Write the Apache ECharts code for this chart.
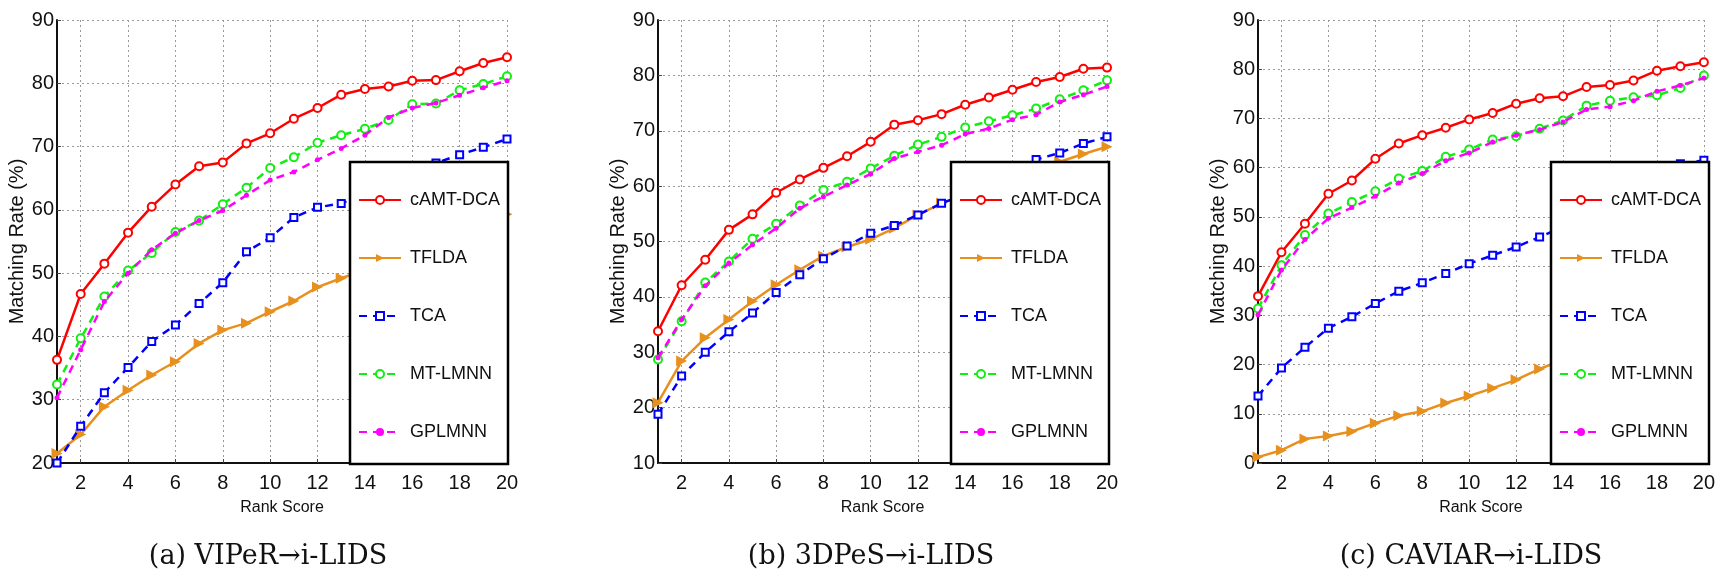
<!DOCTYPE html>
<html><head><meta charset="utf-8">
<script src="https://cdn.jsdelivr.net/npm/echarts@6/dist/echarts.min.js"></script>
<style>html,body{margin:0;padding:0;background:#fff}#c{width:1718px;height:576px}</style>
</head><body><div id="c"></div>
<script>
// ---------- data ----------
const rankScores = ['1','2','3','4','5','6','7','8','9','10','11','12','13','14','15','16','17','18','19','20'];
const seriesNames = ['cAMT-DCA', 'TFLDA', 'TCA', 'MT-LMNN', 'GPLMNN'];
const panelCaptions = ['(a) VIPeR\u2192i-LIDS', '(b) 3DPeS\u2192i-LIDS', '(c) CAVIAR\u2192i-LIDS'];
const yAxisMin = [20, 10, 0];
const yAxisMax = [90, 90, 90];
const yAxisStep = 10;
const xAxisTitle = 'Rank Score';
const yAxisTitle = 'Matching Rate (%)';

// (a) VIPeR -> i-LIDS
const viperCAMT   = [36.3,46.7,51.5,56.4,60.5,64.0,66.9,67.5,70.5,72.1,74.4,76.1,78.2,79.1,79.5,80.4,80.5,81.9,83.2,84.1];
const viperTFLDA  = [21.5,24.5,28.9,31.5,33.9,36.0,38.9,41.0,42.1,43.9,45.6,47.8,49.2,50.5,52.0,53.5,55.0,56.5,58.0,59.3];
const viperTCA    = [20.0,25.8,31.1,35.1,39.2,41.8,45.2,48.5,53.4,55.6,58.8,60.4,61.0,62.5,64.0,66.0,67.4,68.7,69.9,71.2];
const viperMTLMNN = [32.4,39.7,46.3,50.4,53.2,56.5,58.3,60.9,63.5,66.6,68.3,70.6,71.8,72.8,74.2,76.7,76.8,78.9,79.9,81.1];
const viperGPLMNN = [30.3,37.9,45.5,50.0,53.7,56.3,58.3,59.9,62.3,64.7,66.0,67.9,69.7,71.8,74.6,76.1,76.9,78.1,79.3,80.4];

// (b) 3DPeS -> i-LIDS
const dpesCAMT   = [33.8,42.1,46.7,52.1,54.9,58.8,61.2,63.3,65.4,68.0,71.1,71.9,73.0,74.7,76.0,77.4,78.8,79.7,81.2,81.4];
const dpesTFLDA  = [20.9,28.4,32.6,35.9,39.2,42.2,44.9,47.4,49.0,50.4,52.4,54.8,56.9,58.5,60.0,61.5,63.0,64.4,65.8,67.1];
const dpesTCA    = [18.8,25.7,30.0,33.7,37.1,40.8,44.0,46.9,49.2,51.5,52.9,54.8,56.9,58.5,60.5,62.5,64.8,66.0,67.7,68.9];
const dpesMTLMNN = [28.7,35.6,42.6,46.4,50.5,53.2,56.5,59.3,60.8,63.2,65.5,67.5,68.9,70.6,71.7,72.8,74.0,75.7,77.3,79.1];
const dpesGPLMNN = [29.0,35.9,42.0,46.1,49.4,52.4,56.0,58.1,60.2,62.2,65.0,66.2,67.4,69.4,70.4,72.0,72.9,75.2,76.5,78.0];

// (c) CAVIAR -> i-LIDS
const caviarCAMT   = [33.9,42.8,48.6,54.7,57.4,61.8,64.9,66.6,68.1,69.8,71.1,73.0,74.1,74.5,76.4,76.8,77.7,79.7,80.6,81.4];
const caviarTFLDA  = [1.2,2.6,4.9,5.5,6.4,8.1,9.6,10.5,12.2,13.6,15.2,16.9,19.1,21.0,23.0,25.0,27.0,29.0,30.0,30.9];
const caviarTCA    = [13.6,19.3,23.5,27.4,29.7,32.4,34.9,36.6,38.5,40.5,42.2,43.9,45.9,48.0,50.0,52.5,55.0,57.5,60.8,61.5];
const caviarMTLMNN = [31.4,40.2,46.3,50.7,53.0,55.2,57.8,59.3,62.2,63.7,65.7,66.4,67.9,69.6,72.6,73.6,74.3,74.7,76.2,78.7];
const caviarGPLMNN = [30.1,39.2,45.4,49.7,51.9,54.2,56.9,58.8,61.4,63.0,65.2,66.6,67.7,69.3,71.8,72.4,73.6,75.5,76.7,78.2];

const panelData = [
  [viperCAMT, viperTFLDA, viperTCA, viperMTLMNN, viperGPLMNN],
  [dpesCAMT, dpesTFLDA, dpesTCA, dpesMTLMNN, dpesGPLMNN],
  [caviarCAMT, caviarTFLDA, caviarTCA, caviarMTLMNN, caviarGPLMNN]
];

// ---------- layout / style ----------
const gridLefts = [57, 658, 1258];
const gridWidths = [450, 449, 449];
const gridTop = 20, gridHeight = 443;
const captionCenters = [268, 871, 1471];
const legendLefts = [350, 951, 1551];

const styles = [
  {color: '#ff0000', type: 'solid', symbol: 'emptyCircle', size: 8, bw: 2},
  {color: '#e8901e', type: 'solid', symbol: 'path://M0,0L10,5L0,10Z', size: 11, bw: 0},
  {color: '#0000ff', type: [8, 6], symbol: 'emptyRect', size: 7, bw: 2.5},
  {color: '#11ee11', type: [8, 6], symbol: 'emptyCircle', size: 8, bw: 2},
  {color: '#ff00ff', type: [8, 6], symbol: 'circle', size: 5, bw: 0}
];

const font = 'Liberation Sans, Arial, sans-serif';
const evenOnly = (i) => i % 2 === 1;
const gridLine = {show: true, lineStyle: {color: '#9a9a9a', type: [2, 3], width: 1}};

const grids = [], xAxes = [], yAxes = [], series = [], legends = [], graphics = [];
for (let p = 0; p < 3; p++) {
  grids.push({left: gridLefts[p], top: gridTop, width: gridWidths[p], height: gridHeight});
  xAxes.push({
    type: 'category', gridIndex: p, data: rankScores, boundaryGap: false,
    name: xAxisTitle, nameLocation: 'middle', nameGap: 37,
    nameTextStyle: {fontFamily: font, fontSize: 16, color: '#111'},
    axisLine: {lineStyle: {color: '#111', width: 2}},
    axisTick: {show: true, inside: true, length: 4, interval: evenOnly, lineStyle: {color: '#444'}},
    axisLabel: {interval: evenOnly, fontFamily: font, fontSize: 20, color: '#111', margin: 10},
    splitLine: Object.assign({interval: evenOnly}, gridLine)
  });
  yAxes.push({
    type: 'value', gridIndex: p, min: yAxisMin[p], max: yAxisMax[p], interval: yAxisStep,
    name: yAxisTitle, nameLocation: 'middle', nameGap: 28,
    nameTextStyle: {fontFamily: font, fontSize: 20, color: '#111'},
    axisLine: {show: true, lineStyle: {color: '#111', width: 2}},
    axisTick: {show: true, inside: true, length: 4, lineStyle: {color: '#444'}},
    axisLabel: {fontFamily: font, fontSize: 20, color: '#111', margin: 3},
    splitLine: gridLine
  });
  for (let s = 0; s < 5; s++) {
    const st = styles[s];
    series.push({
      type: 'line', name: seriesNames[s], xAxisIndex: p, yAxisIndex: p,
      data: panelData[p][s],
      symbol: st.symbol, symbolSize: st.size, showAllSymbol: true,
      lineStyle: {color: st.color, width: 2.5, type: st.type},
      itemStyle: {color: st.color, borderColor: st.color, borderWidth: st.bw},
      emphasis: {disabled: true}, animation: false, z: 2 + s * 0.01
    });
  }
  legends.push({
    orient: 'vertical', left: legendLefts[p], top: 162,
    data: seriesNames,
    itemWidth: 42, itemHeight: 10, itemGap: 40,
    padding: [29, 8, 23, 8],
    backgroundColor: '#fff', borderColor: '#000', borderWidth: 2.5,
    textStyle: {fontFamily: font, fontSize: 18, color: '#111', padding: [0, 0, 0, 4]},
    selectedMode: false, z: 10
  });
  graphics.push({
    type: 'text',
    x: captionCenters[p], y: 557,
    style: {text: panelCaptions[p], x: 0, y: 0, textAlign: 'center', textVerticalAlign: 'middle',
            font: '27px "DejaVu Serif", serif', fill: '#111'}
  });
}

const chart = echarts.init(document.getElementById('c'), null, {renderer: 'canvas'});
chart.setOption({
  backgroundColor: '#fff',
  animation: false,
  grid: grids, xAxis: xAxes, yAxis: yAxes, series: series, legend: legends,
  graphic: graphics
});
</script></body></html>
